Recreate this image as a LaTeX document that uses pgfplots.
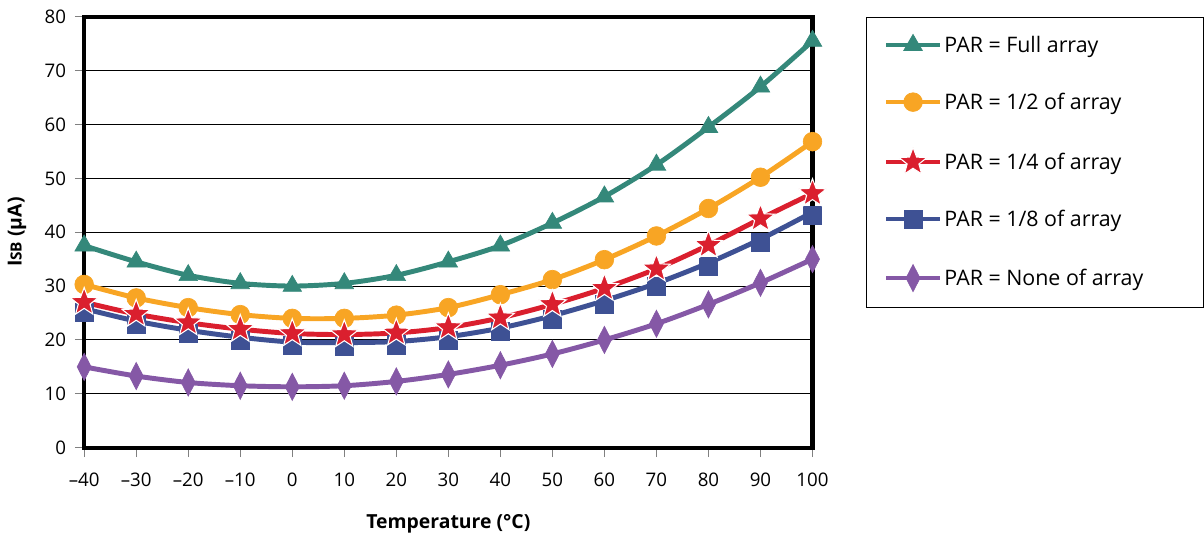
\documentclass[border=0pt]{standalone}
\usepackage{fontspec}
\setmainfont{Open Sans}
\usepackage{pgfplots}
\pgfplotsset{compat=1.18}
\usetikzlibrary{plotmarks}

\definecolor{cFull}{HTML}{34887A}
\definecolor{cHalf}{HTML}{F8A524}
\definecolor{cQuarter}{HTML}{DA1F2E}
\definecolor{cEighth}{HTML}{3E5194}
\definecolor{cNone}{HTML}{8558A6}

% filled five-pointed star
\pgfdeclareplotmark{fstar}{%
  \pgfpathmoveto{\pgfpointpolar{90}{\pgfplotmarksize}}%
  \pgfpathlineto{\pgfpointpolar{126}{0.42\pgfplotmarksize}}%
  \pgfpathlineto{\pgfpointpolar{162}{\pgfplotmarksize}}%
  \pgfpathlineto{\pgfpointpolar{198}{0.42\pgfplotmarksize}}%
  \pgfpathlineto{\pgfpointpolar{234}{\pgfplotmarksize}}%
  \pgfpathlineto{\pgfpointpolar{270}{0.42\pgfplotmarksize}}%
  \pgfpathlineto{\pgfpointpolar{306}{\pgfplotmarksize}}%
  \pgfpathlineto{\pgfpointpolar{342}{0.42\pgfplotmarksize}}%
  \pgfpathlineto{\pgfpointpolar{18}{\pgfplotmarksize}}%
  \pgfpathlineto{\pgfpointpolar{54}{0.42\pgfplotmarksize}}%
  \pgfpathclose
  \pgfusepathqfillstroke}

\begin{document}
\begin{tikzpicture}
  \begin{axis}[
    name=ax,
    scale only axis,
    width=545pt, height=322.5pt,
    xmin=-40, xmax=100, ymin=0, ymax=80,
    xtick={-40,-30,...,100},
    xticklabels={–40,–30,–20,–10,0,10,20,30,40,50,60,70,80,90,100},
    ytick={0,10,...,80},
    /pgf/number format/assume math mode=true,
    ticklabel style={font=\fontsize{14}{16}\selectfont},
    yticklabel style={xshift=-3pt},
    xticklabel style={yshift=-8pt},
    ymajorgrids=true,
    major grid style={black, line width=0.7pt},
    axis line style={line width=3pt},
    tick align=outside,
    major tick length=7pt,
    tick style={gray, line width=0.8pt},
    xtick pos=bottom, ytick pos=left,
    xlabel={\textbf{Temperature (°C)}},
    ylabel={\textbf{I{\fontsize{11.5}{12}\selectfont SB} (µA)}},
    label style={font=\fontsize{14.5}{16}\selectfont},
    xlabel style={yshift=-14pt},
    ylabel style={yshift=7pt},
    every axis plot/.append style={line width=3.7pt, smooth},
    legend style={at={(rel axis cs:1.074,1)}, anchor=north west,
      draw=black, line width=0.8pt, inner xsep=13pt, inner ysep=12pt,
      row sep=25pt, font=\fontsize{16}{18}\selectfont},
    legend cell align=left,
    legend image code/.code={%
      \draw[mark repeat=2, mark phase=2, line width=3pt]
        plot coordinates {(0pt,0pt) (20pt,0pt) (40pt,0pt)};},
  ]

    \addplot[color=cFull, mark=triangle*, mark size=8pt, mark options={line width=0.5pt}]
      coordinates {(-40,37.5) (-30,34.5) (-20,32) (-10,30.5) (0,30) (10,30.5) (20,32)
        (30,34.5) (40,37.5) (50,41.7) (60,46.6) (70,52.5) (80,59.5) (90,67) (100,75.5)};
    \addlegendentry{PAR = Full array}

    \addplot[color=cHalf, mark=*, mark size=7pt, mark options={line width=0.5pt}]
      coordinates {(-40,30.3) (-30,27.8) (-20,26) (-10,24.7) (0,24) (10,24) (20,24.6)
        (30,26) (40,28.4) (50,31.2) (60,34.9) (70,39.3) (80,44.4) (90,50.2) (100,56.8)};
    \addlegendentry{PAR = 1/2 of array}

    \addplot[color=cEighth, mark=square*, mark size=6.8pt, forget plot,
        mark options={line width=0.5pt, yshift=-2.5pt}]
      coordinates {(-40,25.8) (-30,23.5) (-20,21.8) (-10,20.5) (0,19.6) (10,19.5) (20,19.7)
        (30,20.6) (40,22.2) (50,24.5) (60,27.3) (70,30.5) (80,34.3) (90,38.7) (100,43.7)};

    \addplot[color=cQuarter, mark=fstar, mark size=11pt,
        mark options={fill=cQuarter, draw=white, line width=0.8pt}]
      coordinates {(-40,27) (-30,24.8) (-20,23.2) (-10,22) (0,21.2) (10,21) (20,21.3)
        (30,22.3) (40,24.1) (50,26.6) (60,29.6) (70,33.2) (80,37.6) (90,42.5) (100,47.2)};
    \addlegendentry{PAR = 1/4 of array}

    \addlegendimage{color=cEighth, mark=square*, mark size=6.8pt, line width=3.7pt,
      mark options={line width=0.5pt}}
    \addlegendentry{PAR = 1/8 of array}

    \addplot[color=cNone, mark=diamond*, mark size=7pt, mark options={line width=0.5pt, yscale=1.45}]
      coordinates {(-40,15) (-30,13.3) (-20,12.1) (-10,11.5) (0,11.3) (10,11.5) (20,12.3)
        (30,13.6) (40,15.3) (50,17.4) (60,20) (70,23) (80,26.6) (90,30.6) (100,35)};
    \addlegendentry{PAR = None of array\hspace*{30pt}}
  \end{axis}
  % keep the margins above and left of the plot frame
  \path ([yshift=12.5pt]ax.north west) -- ([yshift=12.5pt]ax.north east);
  \path ([xshift=-63pt]ax.south west) -- ([xshift=-63pt]ax.north west);
\end{tikzpicture}
\end{document}
